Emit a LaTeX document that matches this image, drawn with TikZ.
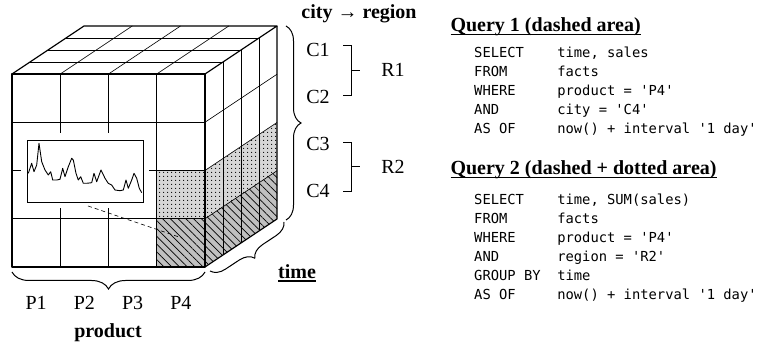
\documentclass[tikz,border=0pt]{standalone}
\usepackage{fontspec}
\setmainfont{Liberation Serif}
\setmonofont{DejaVu Sans Mono}
\usepackage{tikz}
\usetikzlibrary{arrows.meta,positioning,calc,decorations.pathreplacing,patterns.meta}
\definecolor{hatchgray}{HTML}{C0C0C0}
\definecolor{dotgray}{HTML}{D6D6D6}
\newcommand{\sqlline}[2]{\makebox[10\fontcharwd\font`\0][l]{#1}#2}
\newcommand{\ulbf}[1]{\setbox0\hbox{#1}\rlap{\rule[-3.5pt]{\wd0}{1.3pt}}\box0}
\tikzset{
  lbl/.style={font=\fontsize{20}{24}\selectfont},
  boldlbl/.style={font=\fontsize{20}{24}\selectfont\bfseries},
  sql/.style={font=\fontsize{13.8}{19}\selectfont\ttfamily,align=left,anchor=north west,inner sep=0pt},
  gridline/.style={line width=0.6pt},
  edgeline/.style={line width=1.2pt,line join=round},
  curly/.style={decorate,decoration={brace,amplitude=#1},line width=1pt},
  dotfill/.style={pattern={Dots[distance=4pt,radius=0.7pt]}},
  hatchfill/.style={pattern={Lines[angle=-45,distance=5.5pt,line width=0.7pt]}},
}

\begin{document}
\begin{tikzpicture}[x=1pt,y=-1pt,>=Latex]
  \useasboundingbox (0,0) rectangle (761,344);
  % shaded cells (P4 x C3 dotted, P4 x C4 hatched)
  \fill[dotgray] (156.75,170.5) rectangle (205,218.75);
  \fill[dotgray] (205,170.5) -- (277,122.5) -- (277,170.75) -- (205,218.75) -- cycle;
  \fill[dotfill] (156.75,170.5) rectangle (205,218.75);
  \fill[dotfill] (205,170.5) -- (277,122.5) -- (277,170.75) -- (205,218.75) -- cycle;
  \fill[hatchgray] (156.75,218.75) rectangle (205,267);
  \fill[hatchgray] (205,218.75) -- (277,170.75) -- (277,219) -- (205,267) -- cycle;
  \fill[hatchfill] (156.75,218.75) rectangle (205,267);
  \fill[hatchfill] (205,218.75) -- (277,170.75) -- (277,219) -- (205,267) -- cycle;
  % cube grid
  \foreach \i in {1,2,3} {
    \draw[gridline] (12+48.25*\i,74) -- (12+48.25*\i,267);
    \draw[gridline] (12,74+48.25*\i) -- (205,74+48.25*\i);
    \draw[gridline] (12+18*\i,74-12*\i) -- (205+18*\i,74-12*\i);
    \draw[gridline] (12+48.25*\i,74) -- (84+48.25*\i,26);
    \draw[gridline] (205+18*\i,74-12*\i) -- (205+18*\i,267-12*\i);
    \draw[gridline] (205,74+48.25*\i) -- (277,26+48.25*\i);
  }
  % time series inset
  \fill[white] (21,133) rectangle (149,208);
  \node[draw,line width=0.9pt,minimum width=116pt,minimum height=62pt,inner sep=0pt] (chart) at (85,171) {};
  \draw[line width=0.9pt,line join=round] plot coordinates {(28.3,173.3) (31.7,163.3) (34,171.7) (36.7,165) (39,143.3) (41.7,161.7) (45,170) (48.3,175) (50.7,171.7) (52.7,180) (56.7,180) (60,179.3) (62.7,168.3) (65,176.7) (68.3,166.7) (71.7,158.3) (73.3,160) (76,173.3) (78.3,180) (80.7,176.7) (83.3,183.3) (86.7,183.3) (91.7,182.7) (94,173.3) (96.7,181.7) (101,170) (105,178.3) (108.3,183.3) (111.7,185) (115,190) (120,190.7) (123.3,190) (126,180) (128.3,188.3) (131.7,180) (134,173.3) (136.7,178.3) (139.3,188.3) (141.7,192.7)};
  % cube outline
  \draw[edgeline] (12,74) rectangle (205,267);
  \draw[edgeline] (12,74) -- (84,26) -- (277,26) -- (205,74);
  \draw[edgeline] (277,26) -- (277,219) -- (205,267);
  \coordinate (from) at (88,206);
  \coordinate (cell) at (182,238);
  \draw[line width=0.6pt,dash pattern=on 4pt off 3pt] (from) -- (cell);

  % braces
  \coordinate (fbl) at (12,272);
  \coordinate (fbr) at (205,272);
  \draw[curly=17] (fbr) -- (fbl);
  \coordinate (rbt) at (286,26);
  \coordinate (rbb) at (286,220);
  \draw[curly=15] (rbt) -- (rbb);
  \coordinate (tbb) at (284,222);
  \coordinate (tbf) at (210,271);
  \draw[curly=14] (tbb) -- (tbf);

  % dimension labels
  \foreach \i in {1,...,4}
    \node[lbl] (p\i) at (12+48.25*\i-24.1,303) {P\i};
  \node[boldlbl] (prod) at (108,333) {product};
  \node[boldlbl] (time) at (297,273) {\ulbf{time}};
  \node[boldlbl] (cityreg) at (359,14) {city → region};
  \node[lbl] (c1) at (318,50) {C1};
  \node[lbl] (c2) at (318,97) {C2};
  \node[lbl] (c3) at (318,144) {C3};
  \node[lbl] (c4) at (318,191) {C4};
  \node[lbl] (r1) at (393,70) {R1};
  \node[lbl] (r2) at (393,167) {R2};
  \draw[line width=0.8pt] (343,45) -| (351,95) -- (343,95);
  \draw[line width=0.8pt] (351,70) -- (360,70);
  \draw[line width=0.8pt] (343,142) -| (351,191) -- (343,191);
  \draw[line width=0.8pt] (351,166) -- (360,166);

  % queries
  \node[boldlbl,anchor=west] (q1) at (447,27) {\ulbf{Query 1 (dashed area)}};
  \node[sql] (sql1) at (474,46.5) {\sqlline{SELECT}{time, sales}\\
    \sqlline{FROM}{facts}\\
    \sqlline{WHERE}{product = 'P4'}\\
    \sqlline{AND}{city = 'C4'}\\
    \sqlline{AS OF}{now() + interval '1 day'}};
  \node[boldlbl,anchor=west] (q2) at (447,170) {\ulbf{Query 2 (dashed + dotted area)}};
  \node[sql] (sql2) at (474,193.5) {\sqlline{SELECT}{time, SUM(sales)}\\
    \sqlline{FROM}{facts}\\
    \sqlline{WHERE}{product = 'P4'}\\
    \sqlline{AND}{region = 'R2'}\\
    \sqlline{GROUP BY}{time}\\
    \sqlline{AS OF}{now() + interval '1 day'}};
\end{tikzpicture}
\end{document}
